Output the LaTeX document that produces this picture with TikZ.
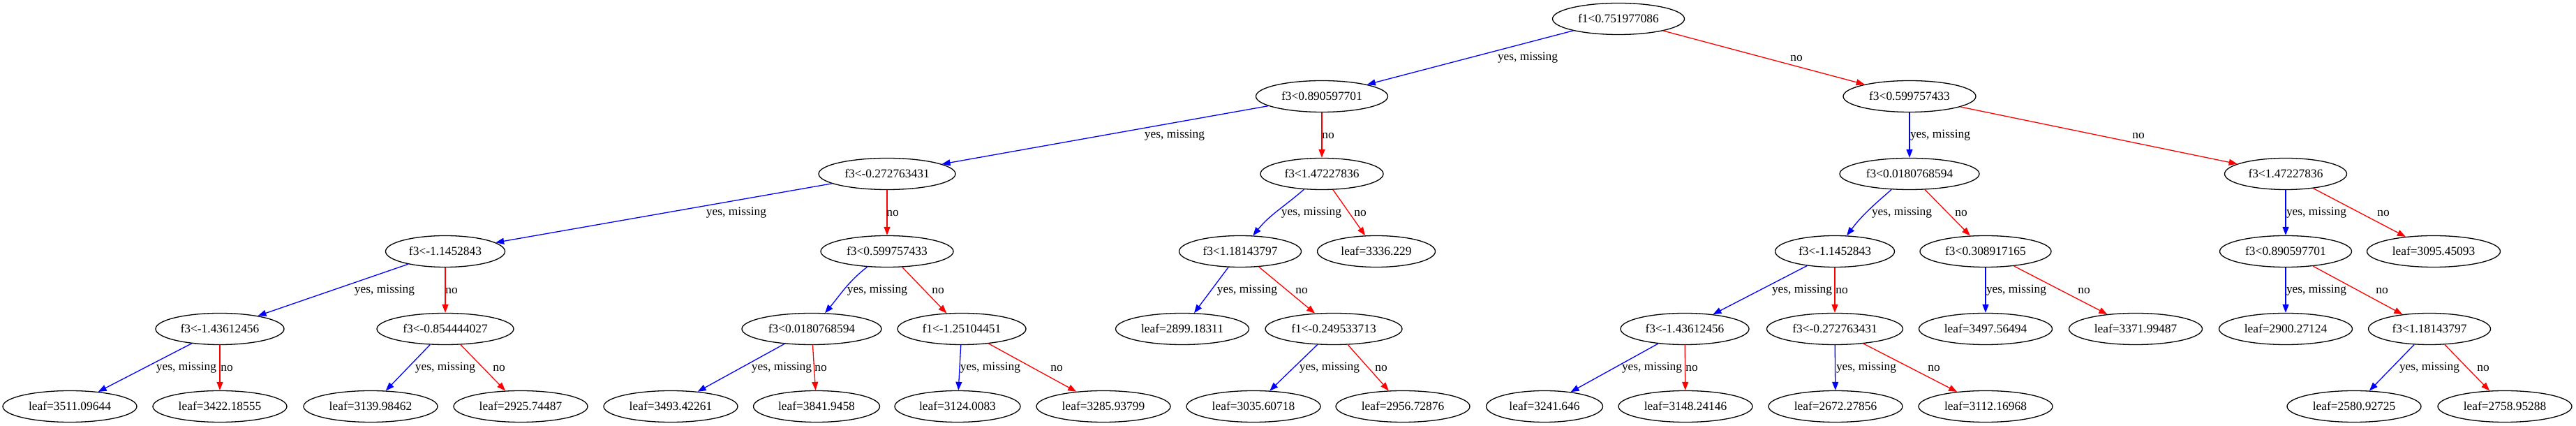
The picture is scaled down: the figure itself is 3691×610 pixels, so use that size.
\documentclass[tikz,border=0pt]{standalone}
\usepackage{fontspec}
\setmainfont{Liberation Serif}
\usetikzlibrary{shapes.geometric,arrows.meta}
\begin{document}
\begin{tikzpicture}[x=0.5pt,y=0.5pt,
  nd/.style={ellipse,draw=black,line width=0.65pt,minimum height=22.5pt,inner sep=0pt,font=\fontsize{8.7pt}{10pt}\selectfont},
  lab/.style={inner sep=0pt,font=\fontsize{8.7pt}{10pt}\selectfont},
  yese/.style={draw=blue,line width=0.65pt,-{Triangle[length=6pt,width=4.5pt,fill=blue]}},
  noe/.style={draw=red,line width=0.65pt,-{Triangle[length=6pt,width=4.5pt,fill=red]}}]
\fill[white] (0,0) rectangle (3691,610);
\useasboundingbox (0,0) rectangle (3691,610);
% level 0
\node[nd,minimum width=94.5pt] (r) at (2319,583) {f1<0.751977086};
% level 1
\node[nd,minimum width=94.5pt] (a1) at (1894,472) {f3<0.890597701};
\node[nd,minimum width=95pt] (a2) at (2736,472) {f3<0.599757433};
% level 2
\node[nd,minimum width=98pt] (b1) at (1271,361) {f3<-0.272763431};
\node[nd,minimum width=88pt] (b2) at (1894,361) {f3<1.47227836};
\node[nd,minimum width=100pt] (b3) at (2736,361) {f3<0.0180768594};
\node[nd,minimum width=87.5pt] (b4) at (3275,361) {f3<1.47227836};
% level 3
\node[nd,minimum width=85.5pt] (c1) at (638,250) {f3<-1.1452843};
\node[nd,minimum width=95pt] (c2) at (1271,250) {f3<0.599757433};
\node[nd,minimum width=87.5pt] (c3) at (1777,250) {f3<1.18143797};
\node[nd,minimum width=84.5pt] (c4) at (1972,250) {leaf=3336.229};
\node[nd,minimum width=85.5pt] (c5) at (2629,250) {f3<-1.1452843};
\node[nd,minimum width=94pt] (c6) at (2845,250) {f3<0.308917165};
\node[nd,minimum width=94.5pt] (c7) at (3275,250) {f3<0.890597701};
\node[nd,minimum width=95.5pt] (c8) at (3487,250) {leaf=3095.45093};
% level 4
\node[nd,minimum width=92pt] (d1) at (315,139) {f3<-1.43612456};
\node[nd,minimum width=98pt] (d2) at (638,139) {f3<-0.854444027};
\node[nd,minimum width=100pt] (d3) at (1163,139) {f3<0.0180768594};
\node[nd,minimum width=92pt] (d4) at (1378,139) {f1<-1.25104451};
\node[nd,minimum width=95.5pt] (d5) at (1694,139) {leaf=2899.18311};
\node[nd,minimum width=98pt] (d6) at (1911,139) {f1<-0.249533713};
\node[nd,minimum width=92pt] (d7) at (2414,139) {f3<-1.43612456};
\node[nd,minimum width=97.5pt] (d8) at (2629,139) {f3<-0.272763431};
\node[nd,minimum width=95.5pt] (d9) at (2845,139) {leaf=3497.56494};
\node[nd,minimum width=95.5pt] (d10) at (3060,139) {leaf=3371.99487};
\node[nd,minimum width=95.5pt] (d11) at (3275,139) {leaf=2900.27124};
\node[nd,minimum width=87.5pt] (d12) at (3481,139) {f3<1.18143797};
% level 5
\node[nd,minimum width=96pt] (e1) at (100,28) {leaf=3511.09644};
\node[nd,minimum width=96pt] (e2) at (315,28) {leaf=3422.18555};
\node[nd,minimum width=96pt] (e3) at (531,28) {leaf=3139.98462};
\node[nd,minimum width=96pt] (e4) at (746,28) {leaf=2925.74487};
\node[nd,minimum width=96pt] (e5) at (961,28) {leaf=3493.42261};
\node[nd,minimum width=90.5pt] (e6) at (1170,28) {leaf=3841.9458};
\node[nd,minimum width=90pt] (e7) at (1372,28) {leaf=3124.0083};
\node[nd,minimum width=96pt] (e8) at (1581,28) {leaf=3285.93799};
\node[nd,minimum width=96pt] (e9) at (1796,28) {leaf=3035.60718};
\node[nd,minimum width=96pt] (e10) at (2010,28) {leaf=2956.72876};
\node[nd,minimum width=83.5pt] (e11) at (2213,28) {leaf=3241.646};
\node[nd,minimum width=96pt] (e12) at (2415,28) {leaf=3148.24146};
\node[nd,minimum width=96pt] (e13) at (2630,28) {leaf=2672.27856};
\node[nd,minimum width=96pt] (e14) at (2845,28) {leaf=3112.16968};
\node[nd,minimum width=96pt] (e15) at (3373,28) {leaf=2580.92725};
\node[nd,minimum width=96pt] (e16) at (3589,28) {leaf=2758.95288};
% edges
\draw[yese] (r) -- (a1);  \draw[noe] (r) -- (a2);
\draw[yese] (a1) -- (b1); \draw[noe] (a1) -- (b2);
\draw[yese] (a2) -- (b3); \draw[noe] (a2) -- (b4);
\draw[yese] (b1) -- (c1); \draw[noe] (b1) -- (c2);
\draw[yese] (b2) to[out=221,in=51] (c3); \draw[noe] (b2) -- (c4);
\draw[yese] (b3) to[out=221,in=53] (c5); \draw[noe] (b3) -- (c6);
\draw[yese] (b4) -- (c7); \draw[noe] (b4) -- (c8);
\draw[yese] (c1) -- (d1); \draw[noe] (c1) -- (d2);
\draw[yese] (c2) to[out=218,in=50] (d3); \draw[noe] (c2) -- (d4);
\draw[yese] (c3) -- (d5); \draw[noe] (c3) -- (d6);
\draw[yese] (c5) -- (d7); \draw[noe] (c5) -- (d8);
\draw[yese] (c6) -- (d9); \draw[noe] (c6) -- (d10);
\draw[yese] (c7) -- (d11); \draw[noe] (c7) -- (d12);
\draw[yese] (d1) -- (e1); \draw[noe] (d1) -- (e2);
\draw[yese] (d2) -- (e3); \draw[noe] (d2) -- (e4);
\draw[yese] (d3) -- (e5); \draw[noe] (d3) -- (e6);
\draw[yese] (d4) -- (e7); \draw[noe] (d4) -- (e8);
\draw[yese] (d6) -- (e9); \draw[noe] (d6) -- (e10);
\draw[yese] (d7) -- (e11); \draw[noe] (d7) -- (e12);
\draw[yese] (d8) -- (e13); \draw[noe] (d8) -- (e14);
\draw[yese] (d12) -- (e15); \draw[noe] (d12) -- (e16);
% labels
\node[lab] (l1) at (2189,527) {yes, missing};
\node[lab] (l2) at (2574,527) {no};
\node[lab] (l3) at (1683,416) {yes, missing};
\node[lab] (l4) at (1903,416) {no};
\node[lab] (l5) at (2780,416) {yes, missing};
\node[lab] (l6) at (3064,416) {no};
\node[lab] (l7) at (1055,305) {yes, missing};
\node[lab] (l8) at (1279,305) {no};
\node[lab] (l9) at (1879,305) {yes, missing};
\node[lab] (l10) at (1949,305) {no};
\node[lab] (l11) at (2725,305) {yes, missing};
\node[lab] (l12) at (2810,305) {no};
\node[lab] (l13) at (3319,305) {yes, missing};
\node[lab] (l14) at (3415,305) {no};
\node[lab] (l15) at (551,194) {yes, missing};
\node[lab] (l16) at (647,194) {no};
\node[lab] (l17) at (1257,194) {yes, missing};
\node[lab] (l18) at (1344,194) {no};
\node[lab] (l19) at (1787,194) {yes, missing};
\node[lab] (l20) at (1865,194) {no};
\node[lab] (l21) at (2582,194) {yes, missing};
\node[lab] (l22) at (2639,194) {no};
\node[lab] (l23) at (2889,194) {yes, missing};
\node[lab] (l24) at (2986,194) {no};
\node[lab] (l25) at (3319,194) {yes, missing};
\node[lab] (l26) at (3413,194) {no};
\node[lab] (l27) at (267,83) {yes, missing};
\node[lab] (l28) at (325,83) {no};
\node[lab] (l29) at (638,83) {yes, missing};
\node[lab] (l30) at (715,83) {no};
\node[lab] (l31) at (1120,83) {yes, missing};
\node[lab] (l32) at (1176,83) {no};
\node[lab] (l33) at (1419,83) {yes, missing};
\node[lab] (l34) at (1514,83) {no};
\node[lab] (l35) at (1905,83) {yes, missing};
\node[lab] (l36) at (1979,83) {no};
\node[lab] (l37) at (2367,83) {yes, missing};
\node[lab] (l38) at (2424,83) {no};
\node[lab] (l39) at (2674,83) {yes, missing};
\node[lab] (l40) at (2771,83) {no};
\node[lab] (l41) at (3481,83) {yes, missing};
\node[lab] (l42) at (3558,83) {no};
\end{tikzpicture}
\end{document}
